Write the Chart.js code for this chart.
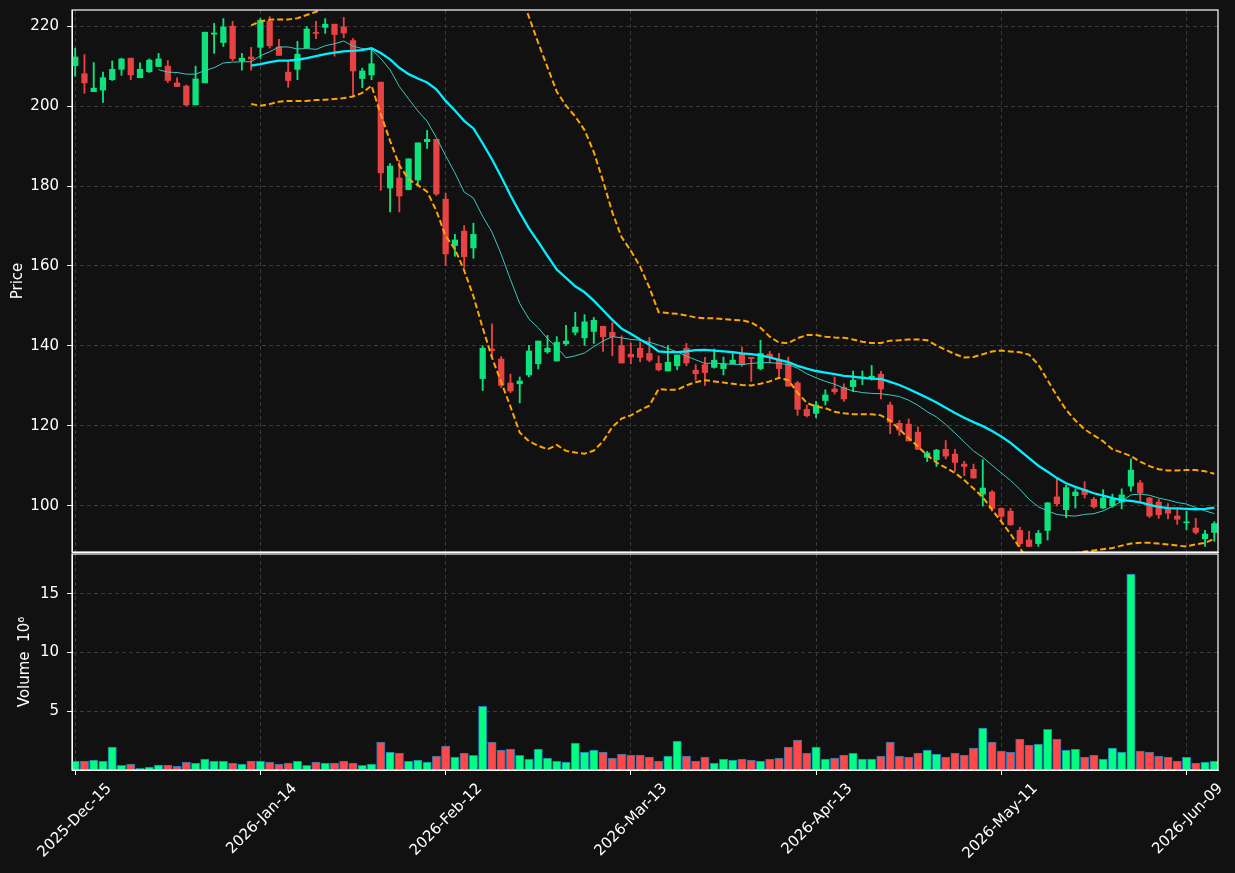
<!DOCTYPE html>
<html>
<head>
<meta charset="utf-8">
<title>Price / Volume</title>
<script src="https://cdn.jsdelivr.net/npm/chart.js@4.4.1/dist/chart.umd.min.js"></script>
<style>
  html, body { margin: 0; padding: 0; background: #111111; }
  #wrap { position: relative; width: 1235px; height: 873px; background: #111111; overflow: hidden; }
  #priceChart { position: absolute; left: 0; top: 0; }
  #volChart { position: absolute; left: 0; top: 552px; }
</style>
</head>
<body>
<div id="wrap">
  <canvas id="priceChart" width="1235" height="553"></canvas>
  <canvas id="volChart" width="1235" height="321"></canvas>
</div>
<script>
// daily bars, index 0 = 2025-Dec-15
const opens = [210.1,208.1,203.6,204.0,206.6,209.2,212.0,207.1,208.6,209.9,
  210.0,205.8,205.0,200.3,205.8,218.0,215.9,220.0,211.3,212.3,
  214.7,221.2,214.8,208.5,209.2,214.6,218.4,219.7,220.5,219.8,
  216.4,206.9,207.8,206.0,179.5,182.0,179.1,181.5,191.1,191.7,
  176.7,165.1,168.7,164.5,131.8,139.2,136.7,130.7,130.5,132.7,
  135.5,138.5,136.2,140.5,143.4,142.0,143.6,144.9,143.4,140.1,
  137.9,139.4,138.1,135.6,133.7,135.0,139.4,133.9,135.3,134.6,
  134.3,135.5,137.9,137.1,134.3,137.9,136.4,135.5,130.7,124.1,
  123.1,126.3,129.2,129.6,129.8,132.0,131.8,132.9,125.2,120.6,
  120.4,118.4,112.1,111.5,114.1,112.9,110.4,109.1,102.9,103.4,
  99.3,98.6,93.8,91.4,90.5,93.8,102.2,99.0,102.5,104.0,
  101.6,99.4,99.9,100.9,104.9,105.7,101.9,100.9,99.2,97.4,
  95.7,94.4,91.7,93.3];
const highs = [214.5,212.9,210.9,208.5,211.3,212.0,212.0,210.8,211.8,213.2,
  211.4,207.1,205.3,210.0,218.5,220.7,221.9,221.2,213.2,214.7,
  222.0,222.4,216.7,211.4,216.2,219.9,221.2,221.9,220.5,222.2,
  216.9,209.5,214.5,206.0,185.6,186.4,186.8,190.8,193.9,191.7,
  178.2,167.9,170.1,170.7,140.0,145.5,137.3,132.9,132.2,140.1,
  141.2,142.6,142.3,145.1,148.4,147.8,147.1,144.9,145.8,142.5,
  140.7,141.0,142.1,137.5,140.1,137.7,140.6,135.3,137.1,139.2,
  137.2,138.5,139.7,137.1,141.4,138.6,138.1,137.2,131.1,125.2,
  126.1,129.0,132.2,130.5,133.7,133.7,135.1,133.6,125.9,121.3,
  121.7,119.7,113.6,114.1,116.3,114.1,111.1,110.4,111.5,103.8,
  99.4,99.3,94.6,93.6,93.8,100.8,106.9,105.1,104.2,106.0,
  102.1,104.0,102.9,104.2,111.7,106.3,102.1,101.6,100.5,99.3,
  98.6,96.8,93.8,96.0];
const lows = [207.5,203.2,203.6,200.9,206.4,207.7,206.6,207.1,208.4,209.9,
  205.9,204.9,200.1,200.3,205.8,213.2,214.9,211.4,209.0,209.0,
  211.9,214.5,212.7,204.7,206.6,214.6,216.9,218.2,212.5,217.1,
  202.4,204.6,206.6,178.9,173.5,173.5,179.1,180.4,189.4,177.6,
  160.1,162.4,159.6,161.9,128.8,137.1,129.6,128.3,125.7,132.2,
  134.2,138.1,136.2,140.1,142.7,140.1,140.6,138.6,137.5,135.7,
  135.5,136.0,136.0,133.7,133.7,134.0,135.0,131.4,130.1,134.4,
  132.7,135.5,134.9,131.1,134.0,135.7,131.8,129.9,122.6,122.2,
  122.0,125.2,127.9,126.1,128.5,130.3,131.4,126.7,118.0,117.6,
  116.2,114.1,111.0,109.8,111.7,108.6,107.5,106.9,99.9,98.6,
  96.0,95.1,89.8,89.7,89.8,91.4,99.9,97.0,99.4,101.9,
  99.4,99.3,99.6,99.2,103.6,101.2,97.0,96.8,96.7,95.3,
  94.0,92.9,89.8,91.1];
const closes = [212.3,205.8,204.5,207.1,209.2,211.8,207.8,209.2,211.5,211.8,
  206.4,204.9,200.3,206.8,218.5,218.3,219.8,211.9,212.0,211.8,
  221.5,215.1,212.7,206.4,213.0,219.3,218.2,220.5,217.9,218.3,
  208.8,208.8,210.6,183.3,185.0,177.5,186.8,190.8,191.7,178.0,
  163.0,166.5,162.3,167.9,139.4,138.8,130.1,128.7,131.2,138.7,
  141.2,139.4,140.9,141.2,144.7,146.0,146.4,142.3,142.3,135.7,
  137.2,137.1,136.4,134.0,135.9,137.7,135.7,133.0,133.3,136.4,
  135.5,136.4,135.3,136.8,138.1,137.1,134.3,129.9,124.1,122.5,
  125.2,127.7,128.5,126.7,131.4,132.2,132.4,129.2,120.9,118.9,
  116.2,114.1,113.2,113.9,112.4,110.8,109.8,106.9,104.4,99.3,
  97.3,95.2,90.5,89.8,93.1,100.7,100.5,104.5,103.4,102.8,
  99.7,101.9,101.6,102.7,108.9,103.2,97.4,97.7,98.1,96.6,
  95.9,93.3,92.9,95.5];
// volume in millions
const volumes = [0.76,0.76,0.85,0.76,1.95,0.40,0.51,0.17,0.25,0.42,
  0.42,0.31,0.68,0.59,0.93,0.76,0.76,0.59,0.51,0.76,
  0.76,0.68,0.51,0.59,0.76,0.40,0.68,0.59,0.59,0.76,
  0.59,0.40,0.51,2.37,1.53,1.44,0.76,0.85,0.68,1.19,
  2.03,1.10,1.44,1.24,5.42,2.37,1.69,1.78,1.24,0.93,
  1.78,1.02,0.76,0.68,2.29,1.53,1.69,1.53,1.02,1.36,
  1.27,1.27,1.10,0.76,1.19,2.46,1.19,0.76,1.10,0.59,
  0.93,0.85,0.93,0.85,0.76,0.93,1.02,1.95,2.54,1.44,
  1.95,0.93,1.02,1.27,1.44,0.93,0.93,1.19,2.37,1.19,
  1.10,1.44,1.69,1.36,1.10,1.44,1.27,1.86,3.56,2.37,
  1.61,1.53,2.63,2.12,2.20,3.47,2.63,1.69,1.78,1.10,
  1.27,0.93,1.86,1.53,16.69,1.61,1.53,1.19,1.10,0.76,
  1.10,0.59,0.68,0.76];

// moving averages and bollinger bands
const ma10 = [null,null,null,null,null,null,null,null,null,
  209.1,208.5,208.4,208.0,208.0,208.9,209.6,210.8,211.0,211.1,211.1,
  212.6,213.6,214.8,214.8,214.3,214.4,214.2,215.1,215.6,216.3,
  215.0,214.4,214.2,211.9,209.1,204.9,201.8,198.8,196.2,192.1,
  187.6,183.3,178.5,177.0,172.4,168.5,162.9,156.6,150.6,146.7,
  144.5,141.8,139.6,137.0,137.5,138.2,139.8,141.2,142.3,142.0,
  141.6,141.4,140.9,140.2,139.3,138.5,137.4,136.5,135.6,135.7,
  135.5,135.4,135.3,135.6,135.8,135.8,135.6,135.3,134.4,133.0,
  132.0,131.1,130.4,129.4,128.7,128.3,128.1,128.0,127.7,127.3,
  126.4,125.1,123.5,122.2,120.3,118.2,115.9,113.7,112.1,110.1,
  108.2,106.3,104.1,101.6,99.7,98.7,97.8,97.5,97.4,97.8,
  98.0,98.7,99.8,101.1,102.7,102.9,102.6,101.9,101.4,100.8,
  100.4,99.5,98.7,98.0];
const ma20 = [null,null,null,null,null,null,null,null,null,null,
  null,null,null,null,null,null,null,null,null,210.1,
  210.5,211.0,211.4,211.4,211.6,212.0,212.5,213.0,213.4,213.7,
  213.8,214.0,214.5,213.3,211.7,209.6,208.0,206.9,205.9,204.2,
  201.3,198.9,196.3,194.4,190.7,186.7,182.3,177.7,173.4,169.4,
  166.0,162.5,159.1,157.0,154.9,153.4,151.3,148.9,146.5,144.3,
  143.0,141.6,140.3,138.6,138.4,138.4,138.6,138.9,139.0,138.8,
  138.6,138.4,138.1,137.9,137.6,137.1,136.5,135.9,135.0,134.3,
  133.7,133.3,132.9,132.5,132.3,132.0,131.8,131.7,131.0,130.2,
  129.2,128.1,127.0,125.8,124.5,123.2,122.0,120.9,119.9,118.7,
  117.3,115.7,113.8,111.9,110.0,108.5,106.9,105.6,104.7,103.9,
  103.1,102.5,101.9,101.4,101.2,100.8,100.2,99.7,99.4,99.3,
  99.2,99.1,99.2,99.5];
const bbUpper = [null,null,null,null,null,null,null,null,null,null,
  null,null,null,null,null,null,null,null,null,220.2,
  221.2,221.6,221.7,221.7,222.0,222.8,223.6,224.6,225.2,225.6,
  225.8,225.6,226.0,228.7,232.1,234.0,234.3,233.6,233.2,234.6,
  235.1,233.6,233.7,236.4,236.9,236.3,233.7,230.6,228.5,222.3,
  215.8,209.7,203.6,200.1,197.4,194.0,188.5,181.2,173.4,167.2,
  163.8,159.8,154.6,148.4,148.2,148.0,147.6,147.1,146.9,146.9,
  146.7,146.5,146.4,145.8,144.5,142.3,140.8,140.7,141.9,142.7,
  142.7,142.3,142.1,142.0,141.6,141.0,140.7,140.7,141.3,141.4,
  141.6,141.6,141.4,140.1,139.0,137.9,137.1,137.2,137.9,138.6,
  138.8,138.6,138.4,137.8,135.3,131.4,127.5,124.0,121.3,119.1,
  117.6,116.1,114.1,113.3,112.4,111.0,109.9,109.1,108.8,108.8,
  108.9,108.9,108.6,108.0];
const bbLower = [null,null,null,null,null,null,null,null,null,null,
  null,null,null,null,null,null,null,null,null,200.5,
  200.1,200.5,201.1,201.3,201.3,201.3,201.5,201.6,201.8,202.0,
  202.4,203.3,205.1,197.9,191.3,185.2,181.7,180.2,178.6,173.8,
  167.5,164.2,158.9,152.4,144.5,137.1,130.9,124.8,118.3,116.1,
  115.0,114.1,115.2,113.7,113.3,113.0,113.8,116.1,119.7,121.8,
  122.6,123.9,125.0,129.2,129.0,129.0,130.1,130.9,131.4,131.1,
  130.8,130.5,130.2,130.1,130.5,131.1,132.0,131.4,128.3,125.7,
  124.8,124.4,123.5,123.1,122.9,122.9,122.9,122.6,121.3,119.1,
  116.9,114.8,112.6,110.8,109.5,108.2,106.4,104.3,102.1,99.0,
  96.0,92.9,89.4,86.0,84.7,85.6,86.3,87.2,88.1,88.5,
  88.8,89.1,89.4,90.0,90.5,90.7,90.7,90.5,90.3,90.0,
  89.8,90.3,90.7,91.7];

// axis ticks
const dateTickIdx = [0, 20, 40, 60, 80, 100, 120];
const dateTickLabels = ['2025-Dec-15', '2026-Jan-14', '2026-Feb-12', '2026-Mar-13',
  '2026-Apr-13', '2026-May-11', '2026-Jun-09'];
const priceTicks = [100, 120, 140, 160, 180, 200, 220];
const volumeTicks = [5, 10, 15];

const FONT = "'DejaVu Sans', sans-serif";
const GRID = '#3a3a3a';
const CANDLE_UP = '#0de27c', CANDLE_DOWN = '#e84242';
const VOL_UP = '#00ff80', VOL_DOWN = '#ff4848';

const idx = closes.map((_, i) => i);
const isUp = i => closes[i] >= opens[i];
const pts = arr => idx.map(i => ({ x: i, y: arr[i] }));

// white box around each panel
const frame = {
  id: 'frame',
  afterDraw(chart) {
    const { ctx, chartArea: a } = chart;
    ctx.save();
    ctx.strokeStyle = '#ffffff';
    ctx.lineWidth = 1.2;
    ctx.strokeRect(a.left, a.top, a.right - a.left, a.bottom - a.top);
    ctx.restore();
  }
};

function xAxis(withLabels) {
  return {
    type: 'linear',
    min: -0.345,
    max: 123.4,
    offset: false,
    afterBuildTicks: s => { s.ticks = dateTickIdx.map(v => ({ value: v })); },
    afterFit: s => {
      s.height = withLabels ? 103 : 1;
      s.paddingLeft = 0;
      s.paddingRight = 0;
    },
    grid: { offset: false, color: GRID, lineWidth: 1, drawTicks: withLabels, tickLength: 5, tickColor: '#ffffff', tickWidth: 1 },
    border: { color: '#ffffff', width: 1, dash: [4, 3] },
    ticks: {
      display: withLabels,
      autoSkip: false,
      minRotation: 45,
      maxRotation: 45,
      labelOffset: 34,
      padding: 5,
      color: '#ffffff',
      font: { family: FONT, size: 15 },
      callback: (v, i) => dateTickLabels[i]
    }
  };
}

function yAxis(min, max, tickList, title, titlePad) {
  return {
    position: 'left',
    min: min,
    max: max,
    afterBuildTicks: s => { s.ticks = tickList.map(v => ({ value: v })); },
    afterFit: s => {
      s.width = 72;
      s.paddingTop = 0;
      s.paddingBottom = 0;
    },
    grid: { color: GRID, lineWidth: 1, tickLength: 5, tickColor: '#ffffff', tickWidth: 1 },
    border: { color: '#ffffff', width: 1, dash: [4, 3] },
    ticks: { color: '#ffffff', padding: 8, font: { family: FONT, size: 15 }, callback: v => String(v) },
    title: { display: true, text: title, color: '#ffffff', font: { family: FONT, size: 15 }, padding: { top: titlePad, bottom: 0 } }
  };
}

const common = {
  responsive: false,
  animation: false,
  events: [],
  plugins: { legend: { display: false }, tooltip: { enabled: false } }
};

new Chart(document.getElementById('priceChart'), {
  type: 'bar',
  data: {
    datasets: [
      { type: 'line', label: 'MA20', data: pts(ma20), borderColor: '#00f0ff', borderWidth: 2.3,
        pointRadius: 0, order: 0 },
      { type: 'line', label: 'MA10', data: pts(ma10), borderColor: '#3cc9bf', borderWidth: 1,
        pointRadius: 0, order: 1 },
      { type: 'line', label: 'BB upper', data: pts(bbUpper), borderColor: '#ffa500', borderWidth: 2,
        borderDash: [6, 3], pointRadius: 0, order: 2 },
      { type: 'line', label: 'BB lower', data: pts(bbLower), borderColor: '#ffa500', borderWidth: 2,
        borderDash: [6, 3], pointRadius: 0, order: 2 },
      { label: 'Body', data: idx.map(i => ({ x: i, y: [opens[i], closes[i]] })),
        backgroundColor: c => isUp(c.dataIndex) ? CANDLE_UP : CANDLE_DOWN,
        barThickness: 5.6, minBarLength: 1, grouped: false, order: 4 },
      { label: 'Wick', data: idx.map(i => ({ x: i, y: [lows[i], highs[i]] })),
        backgroundColor: c => isUp(c.dataIndex) ? CANDLE_UP : CANDLE_DOWN,
        barThickness: 1.2, grouped: false, order: 5 }
    ]
  },
  options: Object.assign({}, common, {
    layout: { padding: { top: 10, right: 17, bottom: 0, left: 0 } },
    scales: {
      x: xAxis(false),
      y: yAxis(88.4, 224.05, priceTicks, 'Price', 9)
    }
  }),
  plugins: [frame]
});

new Chart(document.getElementById('volChart'), {
  type: 'bar',
  data: {
    datasets: [
      { label: 'Volume', data: idx.map(i => ({ x: i, y: volumes[i] })),
        backgroundColor: c => isUp(c.dataIndex) ? VOL_UP : VOL_DOWN,
        borderColor: '#1f77b4', borderWidth: 1, borderSkipped: false,
        barThickness: 8.4, grouped: false }
    ]
  },
  options: Object.assign({}, common, {
    layout: { padding: { top: 2, right: 17, bottom: 0, left: 0 } },
    scales: {
      x: xAxis(true),
      y: yAxis(0, 18.39, volumeTicks, 'Volume  10\u2076', 16)
    }
  }),
  plugins: [frame]
});
</script>
</body>
</html>
